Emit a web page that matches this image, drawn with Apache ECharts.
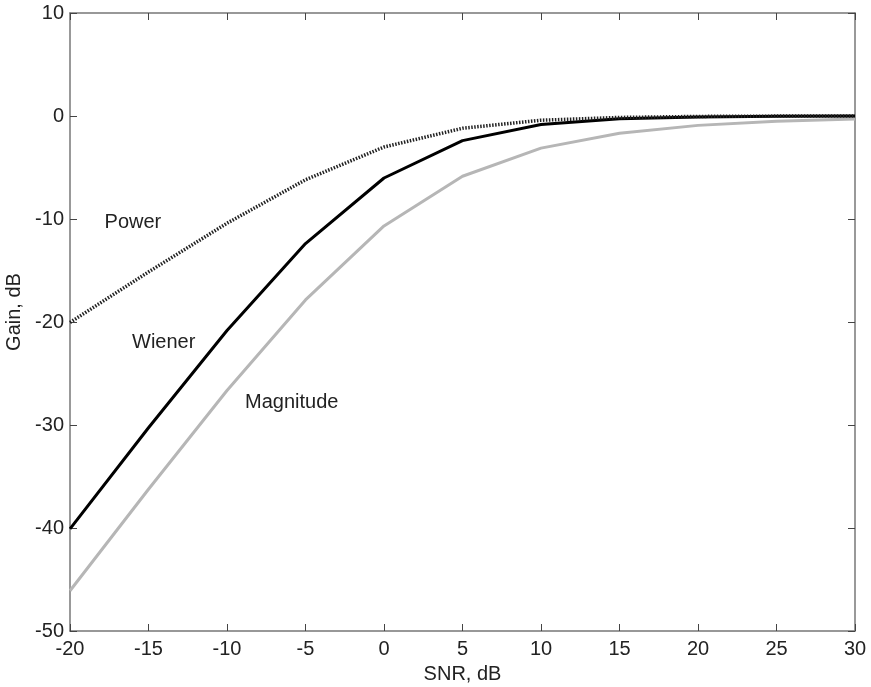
<!DOCTYPE html>
<html><head><meta charset="utf-8">
<script src="https://cdn.jsdelivr.net/npm/echarts@6/dist/echarts.min.js"></script>
<style>html,body{margin:0;padding:0;background:#fff}#c{width:871px;height:687px}</style>
</head><body><div id="c"></div>
<script>
const snr = [-20, -15, -10, -5, 0, 5, 10, 15, 20, 25, 30];
const power = [-20.04, -15.14, -10.41, -6.19, -3.01, -1.19, -0.41, -0.14, -0.04, -0.01, 0.0];
const wiener = [-40.09, -30.27, -20.83, -12.39, -6.02, -2.39, -0.83, -0.27, -0.09, -0.03, -0.01];
const magnitude = [-46.09, -36.24, -26.65, -17.86, -10.67, -5.85, -3.12, -1.67, -0.91, -0.50, -0.28];
const labels = [
  {text: 'Power', x: -17.8, y: -10.3},
  {text: 'Wiener', x: -16.05, y: -22.0},
  {text: 'Magnitude', x: -8.85, y: -27.8}
];
const font = 'Arial, "Liberation Sans", sans-serif';
const fs = 20;
const axisColor = '#777';
function pairs(v){ return snr.map((x,i)=>[x, v[i]]); }
const chart = echarts.init(document.getElementById('c'));
const baseAxis = {
  axisLine: {show: true, onZero: false, lineStyle: {color: axisColor, width: 1.5}},
  axisTick: {show: true, inside: true, length: 7, lineStyle: {color: '#444', width: 1}},
  splitLine: {show: false}
};
chart.setOption({
  animation: false,
  backgroundColor: '#fff',
  grid: {left: 70, right: 16, top: 13, bottom: 56, outerBoundsMode: 'none', containLabel: false},
  xAxis: [
    Object.assign({type: 'value', min: -20, max: 30, interval: 5, position: 'bottom',
      name: 'SNR, dB', nameLocation: 'middle', nameGap: 33,
      nameTextStyle: {fontFamily: font, fontSize: fs, color: '#222'},
      axisLabel: {fontFamily: font, fontSize: fs, color: '#222', margin: 8}}, baseAxis),
    Object.assign({type: 'value', min: -20, max: 30, interval: 5, position: 'top',
      axisLabel: {show: false}}, baseAxis)
  ],
  yAxis: [
    Object.assign({type: 'value', min: -50, max: 10, interval: 10, position: 'left',
      axisLabel: {fontFamily: font, fontSize: fs, color: '#222', margin: 6}}, baseAxis),
    Object.assign({type: 'value', min: -50, max: 10, interval: 10, position: 'right',
      axisLabel: {show: false}}, baseAxis)
  ],
  series: [
    {name: 'Magnitude', type: 'line', data: pairs(magnitude), showSymbol: false,
      lineStyle: {color: '#b6b6b6', width: 3}},
    {name: 'Wiener', type: 'line', data: pairs(wiener), showSymbol: false,
      lineStyle: {color: '#000', width: 3}},
    {name: 'Power', type: 'line', data: pairs(power), showSymbol: false,
      lineStyle: {color: '#222', width: 3.5, type: [1.5, 1.5]}}
  ]
});
const g = labels.map(l => {
  const p = chart.convertToPixel({xAxisIndex: 0, yAxisIndex: 0}, [l.x, l.y]);
  return {type: 'text', x: p[0], y: p[1],
    style: {text: l.text, font: fs + 'px ' + font, fill: '#222', verticalAlign: 'middle'}};
});
g.push({type: 'text', x: 14, y: 312, rotation: Math.PI / 2,
  style: {text: 'Gain, dB', font: fs + 'px ' + font, fill: '#222', align: 'center', verticalAlign: 'middle'}});
chart.setOption({graphic: g});
</script></body></html>
